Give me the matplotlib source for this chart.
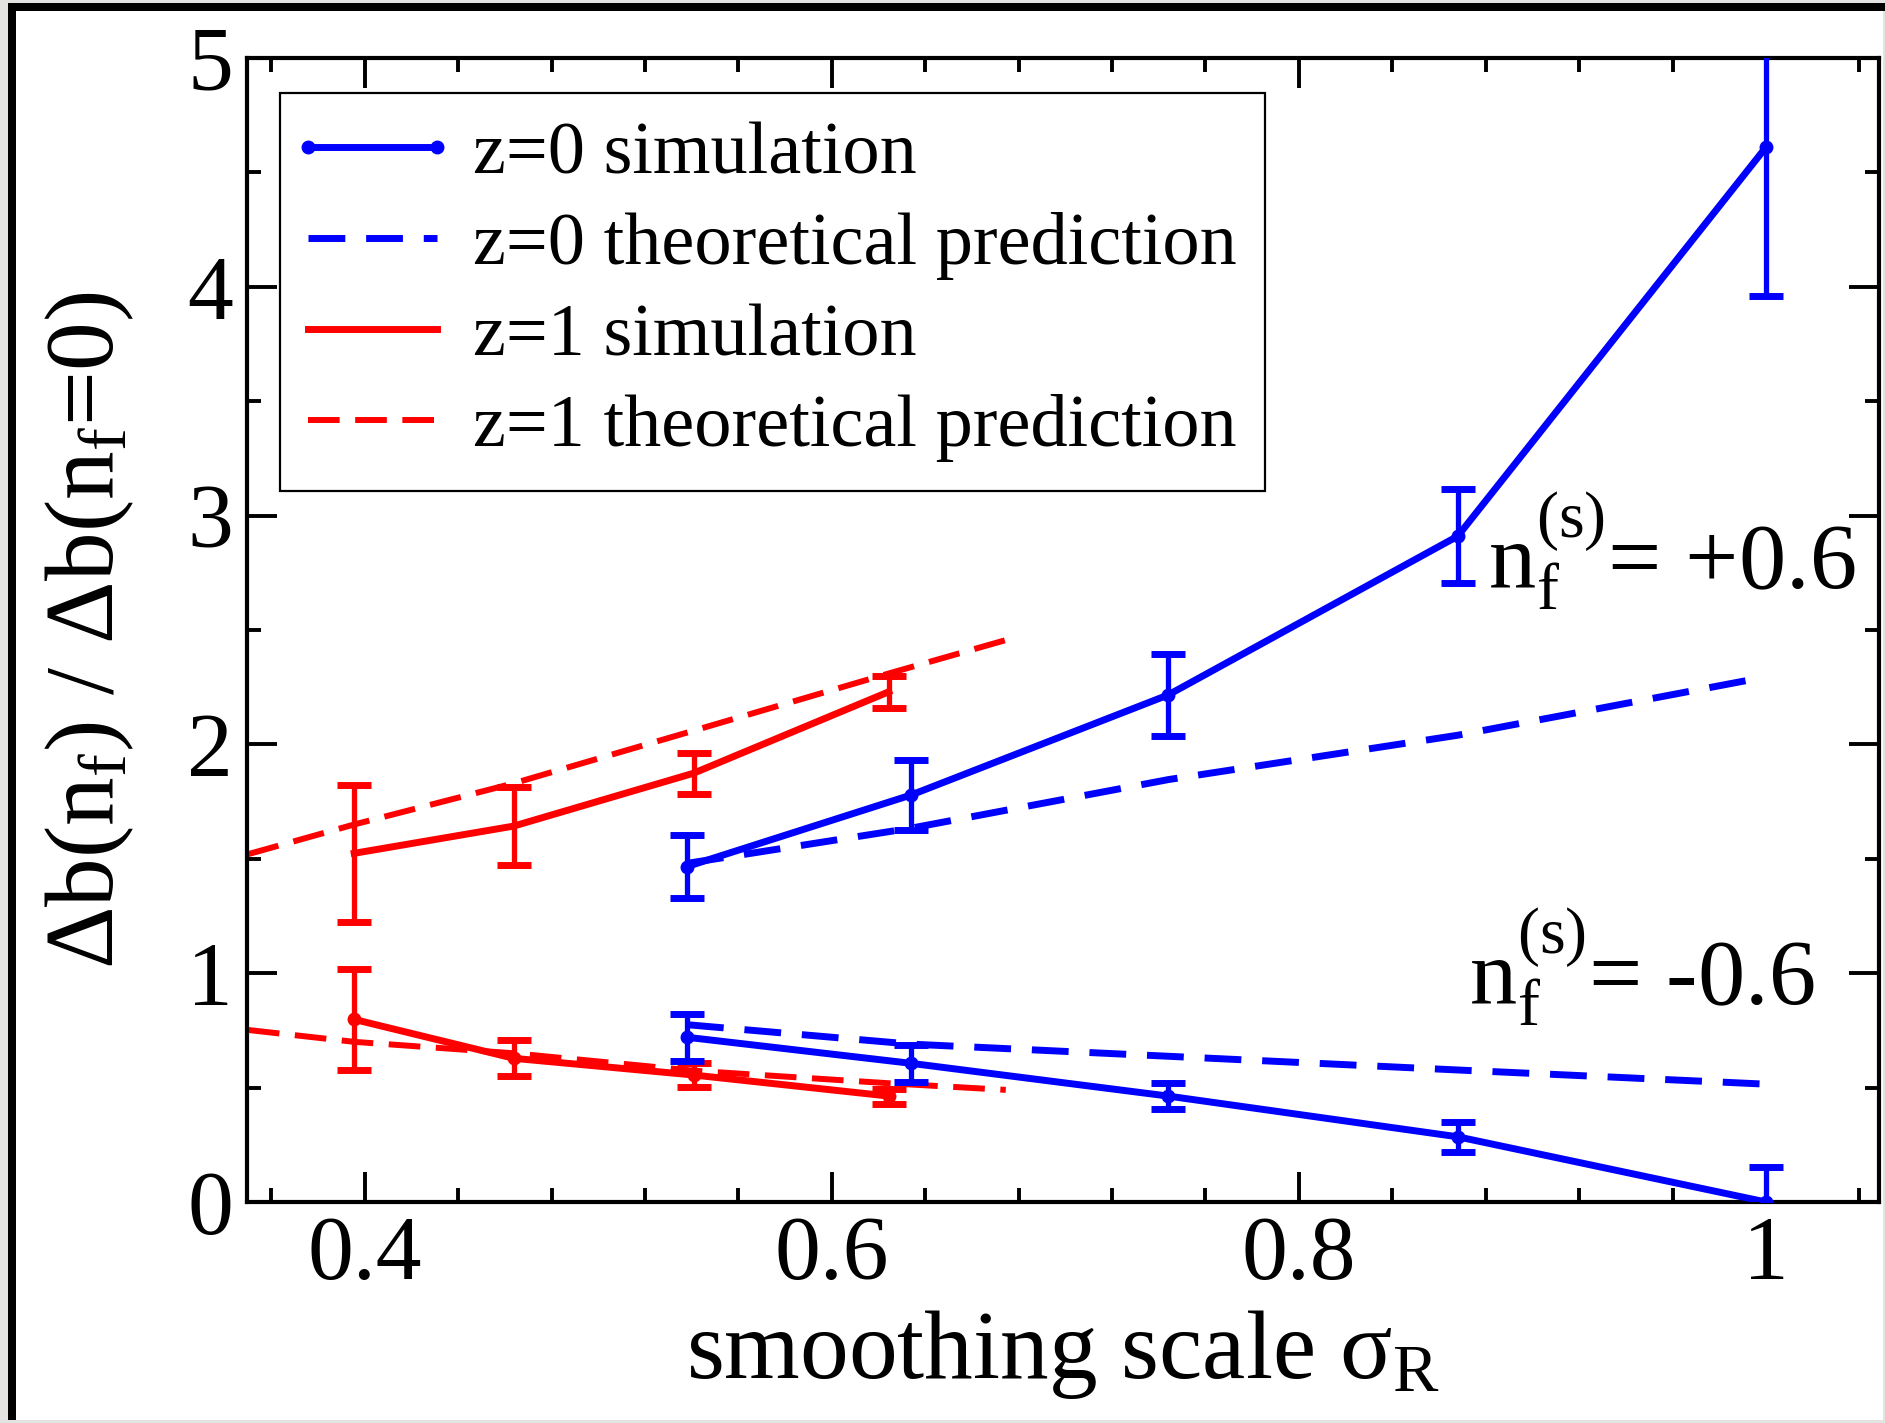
import matplotlib
matplotlib.use("Agg")
import matplotlib.pyplot as plt
from matplotlib.lines import Line2D
from matplotlib.patches import Rectangle
from matplotlib.ticker import MultipleLocator
from matplotlib.legend_handler import HandlerLine2D

plt.rcParams['font.family'] = ['Liberation Serif', 'DejaVu Serif']
plt.rcParams['mathtext.fontset'] = 'custom'
plt.rcParams['mathtext.rm'] = 'Liberation Serif'
plt.rcParams['mathtext.it'] = 'Liberation Serif:italic'
plt.rcParams['mathtext.bf'] = 'Liberation Serif:bold'

# ---------------- data ----------------
sigma_z0 = [0.538, 0.634, 0.744, 0.868, 1.0]
sigma_z1 = [0.3955, 0.4638, 0.5408, 0.6244]

# n_f = +0.6
z0_sim_pos = [1.466, 1.779, 2.216, 2.91, 4.61]
z0_err_pos = [0.136, 0.151, 0.18, 0.205, 0.65]
z1_sim_pos = [1.524, 1.643, 1.874, 2.23]
z1_err_pos = [0.30, 0.17, 0.09, 0.07]

# n_f = -0.6
z0_sim_neg = [0.72, 0.606, 0.463, 0.285, 0.0]
z0_err_neg = [0.102, 0.082, 0.055, 0.065, 0.153]
z1_sim_neg = [0.798, 0.628, 0.555, 0.463]
z1_err_neg = [0.22, 0.078, 0.053, 0.033]

# theoretical predictions
z0_theory_x = [0.538, 0.634, 0.744, 0.868, 1.0]
z0_theory_pos = [1.48, 1.634, 1.846, 2.04, 2.295]
z0_theory_neg = [0.775, 0.69, 0.637, 0.577, 0.515]
z1_theory_x = [0.35, 0.3955, 0.4638, 0.5408, 0.6244, 0.6745]
z1_theory_pos = [1.52, 1.65, 1.83, 2.06, 2.31, 2.456]
z1_theory_neg = [0.752, 0.70, 0.65, 0.574, 0.519, 0.49]

legend_labels = ["z=0 simulation", "z=0 theoretical prediction",
                 "z=1 simulation", "z=1 theoretical prediction"]

W, H = 1885, 1423
fig = plt.figure(figsize=(W / 100, H / 100), dpi=100)
fig.patch.set_facecolor('#e3e3e1')
# white page with black frame (top & left)
fig.add_artist(Rectangle((8 / W, 3 / H), (W - 10) / W, (H - 6) / H,
                         transform=fig.transFigure, facecolor='white', edgecolor='none', zorder=-10))
fig.add_artist(Rectangle((8 / W, 3 / H), 8 / W, (H - 6) / H,
                         transform=fig.transFigure, facecolor='black', edgecolor='none', zorder=-9))
fig.add_artist(Rectangle((8 / W, 1 - 11 / H), (W - 8) / W, 8 / H,
                         transform=fig.transFigure, facecolor='black', edgecolor='none', zorder=-9))

ax = fig.add_axes([247 / W, 1 - 1202 / H, (1879 - 247) / W, (1202 - 58) / H])
ax.set_facecolor('none')

BLUE = '#0000ff'
RED = '#ff0000'
lw = 5
eb_kw = dict(elinewidth=3.8, capsize=12, capthick=5)

# z=1 theory (red dashed)
ax.plot(z1_theory_x, z1_theory_pos, color=RED, lw=4.3, dashes=(5.3, 2.6), zorder=2)
ax.plot(z1_theory_x, z1_theory_neg, color=RED, lw=4.3, dashes=(5.3, 2.6), zorder=2)
# z=1 simulation
ax.errorbar(sigma_z1, z1_sim_pos, yerr=z1_err_pos, color=RED, lw=lw, zorder=3, **eb_kw)
ax.errorbar(sigma_z1, z1_sim_neg, yerr=z1_err_neg, color=RED, lw=lw, marker='o', ms=9,
            zorder=3, **eb_kw)
# z=0 theory (blue dashed)
ax.plot(z0_theory_x, z0_theory_pos, color=BLUE, lw=5, dashes=(5.3, 3.0), zorder=4)
ax.plot(z0_theory_x, z0_theory_neg, color=BLUE, lw=5, dashes=(5.3, 3.0), zorder=4)
# z=0 simulation
ax.errorbar(sigma_z0, z0_sim_pos, yerr=z0_err_pos, color=BLUE, lw=lw, marker='o', ms=9,
            zorder=5, **eb_kw)
ax.errorbar(sigma_z0, z0_sim_neg, yerr=z0_err_neg, color=BLUE, lw=lw, marker='o', ms=9,
            zorder=5, **eb_kw)

ax.set_xlim(0.3496, 1.0484)
ax.set_ylim(0, 5)
ax.xaxis.set_major_locator(MultipleLocator(0.2))
ax.xaxis.set_minor_locator(MultipleLocator(0.04))
ax.yaxis.set_major_locator(MultipleLocator(1))
ax.yaxis.set_minor_locator(MultipleLocator(0.5))
ax.set_xticks([0.4, 0.6, 0.8, 1.0])
ax.set_xticklabels(['0.4', '0.6', '0.8', '1'])
ax.set_yticks([0, 1, 2, 3, 4, 5])
ax.set_yticklabels(['0', '1', '2', '3', '4', '5'])

for s in ax.spines.values():
    s.set_linewidth(3)
ax.tick_params(which='both', direction='in', top=True, right=True, width=2.8,
               labelsize=66, pad=10)
ax.tick_params(which='major', length=21.6)
ax.tick_params(which='minor', length=10)

ax.set_xlabel(r'smoothing scale σ$_\mathrm{R}$', fontsize=70)
ax.xaxis.set_label_coords(0.5, -0.093)
ax.set_ylabel(r'Δb(n$_\mathrm{f}$) / Δb(n$_\mathrm{f}$=0)', fontsize=70)
ax.yaxis.set_label_coords(-0.068, 0.5)

ax.text(0.881, 2.68, r'n$_\mathrm{f}^{(\mathrm{s})}$= +0.6', fontsize=68,
        ha='left', va='baseline')
ax.text(0.873, 0.865, r'n$_\mathrm{f}^{(\mathrm{s})}$= -0.6', fontsize=68,
        ha='left', va='baseline')

handles = [
    Line2D([], [], color=BLUE, lw=5, marker='o', ms=9),
    Line2D([], [], color=BLUE, lw=5, dashes=(5.3, 3.0)),
    Line2D([], [], color=RED, lw=5),
    Line2D([], [], color=RED, lw=4.3, dashes=(5.3, 2.6)),
]
leg = ax.legend(handles, legend_labels, loc='upper left',
                bbox_to_anchor=(0.0202, 0.9694), borderaxespad=0,
                fontsize=53.5, handlelength=1.74, handletextpad=0.48,
                borderpad=0.38, labelspacing=0.31, fancybox=False, framealpha=1,
                edgecolor='black',
                handler_map={Line2D: HandlerLine2D(marker_pad=0, numpoints=2)})
leg.get_frame().set_linewidth(1.6)

fig.savefig('out.png', dpi=100, facecolor=fig.get_facecolor())
